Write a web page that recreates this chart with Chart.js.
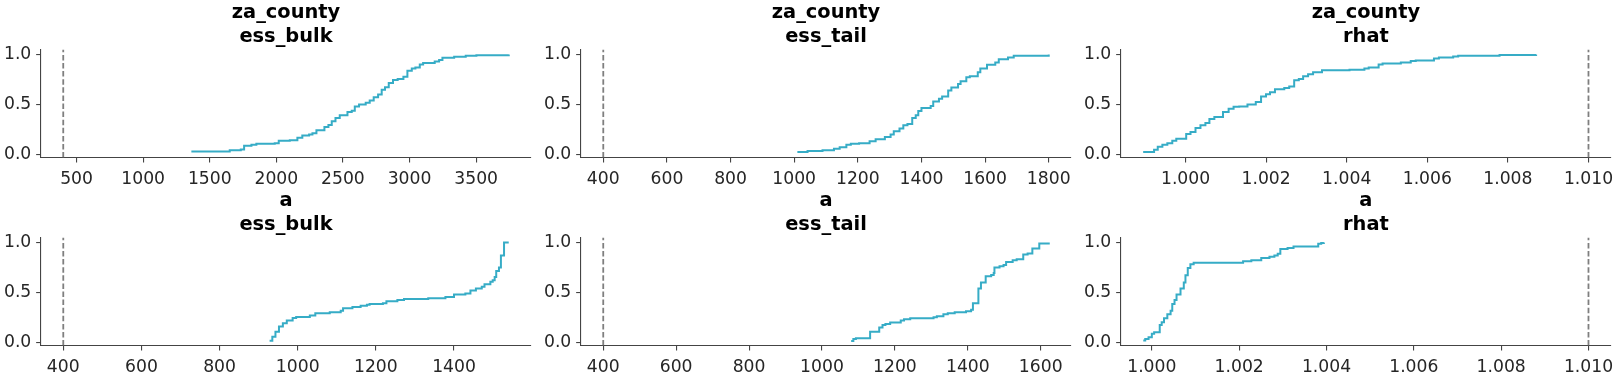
<!DOCTYPE html>
<html>
<head>
<meta charset="utf-8">
<script src="https://cdn.jsdelivr.net/npm/chart.js@4.4.0/dist/chart.umd.min.js"></script>
<style>
  html, body { margin: 0; padding: 0; background: #fff; }
  #wrap { position: relative; width: 1620px; height: 376px; }
  #wrap canvas { position: absolute; }
</style>
</head>
<body>
<div id="wrap"></div>
<script>
// ECDF steps: x = where the step happens, y = new level
const zaCountyEssBulkX = [1362, 1650, 1733, 1758, 1813, 1850, 1988, 2018, 2101, 2158, 2195, 2246, 2271, 2301, 2361, 2391, 2416, 2444, 2476, 2534, 2566, 2589, 2621, 2671, 2701, 2731, 2764, 2791, 2816, 2844, 2876, 2911, 2954, 2984, 3017, 3044, 3077, 3102, 3189, 3222, 3247, 3335, 3422, 3502, 3745];
const zaCountyEssBulkY = [0.027, 0.040, 0.047, 0.083, 0.093, 0.103, 0.110, 0.133, 0.140, 0.163, 0.186, 0.196, 0.209, 0.239, 0.272, 0.292, 0.329, 0.362, 0.389, 0.422, 0.435, 0.478, 0.498, 0.515, 0.538, 0.571, 0.598, 0.645, 0.671, 0.714, 0.744, 0.754, 0.777, 0.837, 0.860, 0.870, 0.900, 0.914, 0.930, 0.944, 0.967, 0.977, 0.987, 0.992, 1.0];

const zaCountyEssTailX = [1010, 1042, 1089, 1125, 1143, 1164, 1178, 1204, 1237, 1256, 1285, 1303, 1313, 1331, 1343, 1356, 1371, 1382, 1390, 1400, 1429, 1437, 1455, 1465, 1484, 1494, 1515, 1523, 1541, 1552, 1577, 1585, 1606, 1632, 1643, 1672, 1690, 1800];
const zaCountyEssTailY = [0.020, 0.030, 0.040, 0.053, 0.070, 0.093, 0.103, 0.110, 0.130, 0.150, 0.173, 0.196, 0.229, 0.256, 0.289, 0.302, 0.362, 0.389, 0.432, 0.462, 0.482, 0.528, 0.555, 0.578, 0.638, 0.668, 0.704, 0.731, 0.771, 0.781, 0.821, 0.860, 0.897, 0.920, 0.953, 0.970, 0.987, 1.0];

const zaCountyRhatX = [0.998948, 0.999219, 0.99931, 0.999425, 0.999548, 0.999671, 0.99977, 1.000016, 1.000123, 1.000247, 1.00037, 1.000493, 1.000592, 1.000715, 1.000929, 1.001069, 1.001192, 1.001332, 1.001537, 1.001743, 1.001874, 1.001997, 1.002096, 1.002219, 1.00245, 1.002573, 1.002696, 1.002811, 1.002918, 1.003041, 1.003165, 1.003386, 1.004069, 1.004439, 1.004546, 1.004792, 1.00489, 1.005343, 1.005589, 1.005713, 1.006165, 1.006288, 1.006642, 1.006766, 1.007793, 1.0087];
const zaCountyRhatY = [0.020, 0.043, 0.073, 0.093, 0.110, 0.133, 0.153, 0.203, 0.223, 0.262, 0.289, 0.312, 0.352, 0.372, 0.422, 0.455, 0.475, 0.478, 0.498, 0.522, 0.578, 0.601, 0.621, 0.651, 0.664, 0.678, 0.741, 0.754, 0.781, 0.801, 0.821, 0.841, 0.847, 0.860, 0.870, 0.900, 0.910, 0.920, 0.934, 0.940, 0.960, 0.970, 0.980, 0.988, 0.994, 1.0];

const aEssBulkX = [928, 935, 943, 952, 962, 972, 987, 996, 1031, 1045, 1082, 1110, 1116, 1140, 1161, 1177, 1184, 1218, 1227, 1255, 1272, 1334, 1378, 1400, 1429, 1442, 1456, 1471, 1478, 1493, 1499, 1504, 1508, 1515, 1520, 1528, 1540];
const aEssBulkY = [0.013, 0.053, 0.103, 0.156, 0.189, 0.216, 0.243, 0.252, 0.266, 0.289, 0.299, 0.316, 0.339, 0.352, 0.365, 0.375, 0.382, 0.389, 0.409, 0.422, 0.432, 0.439, 0.452, 0.478, 0.488, 0.518, 0.538, 0.555, 0.581, 0.605, 0.621, 0.654, 0.714, 0.750, 0.870, 1.0, 1.0];

const aEssTailX = [1080, 1086, 1093, 1132, 1157, 1166, 1174, 1187, 1216, 1225, 1242, 1306, 1315, 1333, 1345, 1364, 1395, 1409, 1414, 1429, 1436, 1449, 1464, 1471, 1473, 1487, 1498, 1505, 1523, 1534, 1552, 1564, 1577, 1596, 1622];
const aEssTailY = [0.010, 0.030, 0.040, 0.103, 0.146, 0.173, 0.183, 0.196, 0.216, 0.229, 0.239, 0.249, 0.259, 0.279, 0.289, 0.299, 0.309, 0.326, 0.389, 0.538, 0.598, 0.661, 0.674, 0.694, 0.748, 0.761, 0.774, 0.804, 0.821, 0.831, 0.880, 0.890, 0.940, 0.990, 1.0];

const aRhatX = [0.999804, 0.999849, 0.999925, 1.0, 1.000053, 1.000181, 1.000226, 1.000279, 1.000355, 1.00043, 1.000468, 1.00052, 1.000566, 1.000657, 1.000732, 1.00077, 1.000823, 1.000883, 1.000958, 1.00209, 1.002279, 1.002506, 1.002694, 1.002807, 1.002883, 1.002943, 1.003109, 1.003245, 1.003811, 1.003879, 1.00394];
const aRhatY = [0.017, 0.030, 0.050, 0.083, 0.100, 0.173, 0.200, 0.239, 0.279, 0.316, 0.382, 0.422, 0.478, 0.538, 0.598, 0.671, 0.744, 0.781, 0.797, 0.811, 0.821, 0.844, 0.857, 0.870, 0.887, 0.934, 0.944, 0.960, 0.987, 0.995, 1.0];

// reference thresholds (dashed lines)
const essThreshold = 400;
const rhatThreshold = 1.01;

// tick labels
const yTicks = [0, 0.5, 1.0];
const zaCountyEssBulkTicks = [500, 1000, 1500, 2000, 2500, 3000, 3500];
const zaCountyEssTailTicks = [400, 600, 800, 1000, 1200, 1400, 1600, 1800];
const aEssBulkTicks = [400, 600, 800, 1000, 1200, 1400];
const aEssTailTicks = [400, 600, 800, 1000, 1200, 1400, 1600];
const rhatTicks = [1.000, 1.002, 1.004, 1.006, 1.008, 1.010];

const lineColor = '#36acc6';
const refColor = '#7f7f7f';
const axisColor = '#444444';
const labelColor = '#262626';

Chart.defaults.font.family = "'DejaVu Sans', sans-serif";

const Y_MIN = -0.035, Y_MAX = 1.05;
const TICK_LEN = 4.86;
const TICK_FONT = 17.2;

const panels = [
  { title: ['za_county', 'ess_bulk'], xs: zaCountyEssBulkX, ys: zaCountyEssBulkY, ticks: zaCountyEssBulkTicks, thr: essThreshold, xMin: 233, xMax: 3912, dec: 0 },
  { title: ['za_county', 'ess_tail'], xs: zaCountyEssTailX, ys: zaCountyEssTailY, ticks: zaCountyEssTailTicks, thr: essThreshold, xMin: 330, xMax: 1870, dec: 0 },
  { title: ['za_county', 'rhat'], xs: zaCountyRhatX, ys: zaCountyRhatY, ticks: rhatTicks, thr: rhatThreshold, xMin: 0.998398, xMax: 1.010553, dec: 3 },
  { title: ['a', 'ess_bulk'], xs: aEssBulkX, ys: aEssBulkY, ticks: aEssBulkTicks, thr: essThreshold, xMin: 343, xMax: 1597, dec: 0 },
  { title: ['a', 'ess_tail'], xs: aEssTailX, ys: aEssTailY, ticks: aEssTailTicks, thr: essThreshold, xMin: 339, xMax: 1683, dec: 0 },
  { title: ['a', 'rhat'], xs: aRhatX, ys: aRhatY, ticks: rhatTicks, thr: rhatThreshold, xMin: 0.999294, xMax: 1.01051, dec: 3 }
];

const wrap = document.getElementById('wrap');

panels.forEach((p, i) => {
  const col = i % 3, row = Math.floor(i / 3);
  const canvas = document.createElement('canvas');
  canvas.width = 540;
  canvas.height = 188;
  canvas.style.left = (col * 540) + 'px';
  canvas.style.top = (row * 188) + 'px';
  wrap.appendChild(canvas);

  const ecdf = p.xs.map((x, k) => ({ x: x, y: p.ys[k] }));
  const ref = [{ x: p.thr, y: Y_MIN }, { x: p.thr, y: Y_MAX }];

  new Chart(canvas.getContext('2d'), {
    type: 'line',
    data: {
      datasets: [
        {
          data: ref,
          borderColor: refColor,
          borderWidth: 1.8,
          borderDash: [5.5, 2.6],
          pointRadius: 0,
          fill: false
        },
        {
          data: ecdf,
          borderColor: lineColor,
          borderWidth: 2,
          stepped: true,
          pointRadius: 0,
          fill: false
        }
      ]
    },
    options: {
      responsive: false,
      animation: false,
      devicePixelRatio: 1,
      layout: { autoPadding: false, padding: { left: 0, right: 9, top: 0, bottom: 0 } },
      plugins: {
        legend: { display: false },
        tooltip: { enabled: false },
        title: {
          display: true,
          text: p.title,
          color: '#000',
          fullSize: false,
          font: { size: 19.4, weight: 'bold', lineHeight: 1.25 },
          padding: { top: 1, bottom: 0 }
        }
      },
      scales: {
        x: {
          type: 'linear',
          position: 'bottom',
          min: p.xMin,
          max: p.xMax,
          afterBuildTicks: s => { s.ticks = p.ticks.map(v => ({ value: v })); },
          afterFit: s => { s.height = 30.4; },
          ticks: {
            color: labelColor,
            font: { size: TICK_FONT },
            padding: 6.5,
            maxRotation: 0,
            autoSkip: false,
            callback: v => v.toFixed(p.dec)
          },
          grid: { drawOnChartArea: false, drawTicks: true, tickLength: TICK_LEN, color: axisColor, lineWidth: 1.1 },
          border: { display: true, color: axisColor, width: 1.1 }
        },
        y: {
          type: 'linear',
          min: Y_MIN,
          max: Y_MAX,
          afterBuildTicks: s => { s.ticks = yTicks.map(v => ({ value: v })); },
          afterFit: s => { s.width = 41; },
          ticks: {
            color: labelColor,
            font: { size: TICK_FONT },
            padding: 4.86,
            callback: v => v.toFixed(1)
          },
          grid: { drawOnChartArea: false, drawTicks: true, tickLength: TICK_LEN, color: axisColor, lineWidth: 1.1 },
          border: { display: true, color: axisColor, width: 1.1 }
        }
      }
    }
  });
});
</script>
</body>
</html>
